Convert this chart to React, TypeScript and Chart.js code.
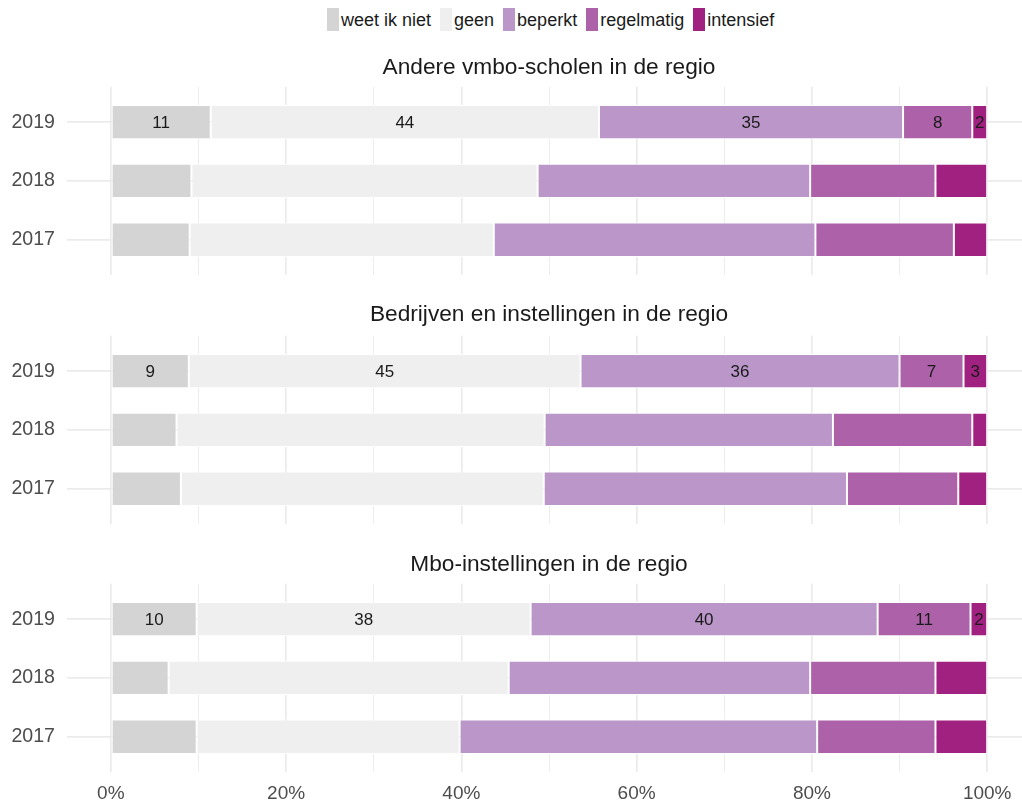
import React, { useEffect, useRef } from 'react';
import { Chart, registerables } from 'chart.js';

Chart.register(...registerables);

const FONT = "'Liberation Sans', Arial, Helvetica, sans-serif";

const years = ['2019', '2018', '2017'];
const categories = ['weet ik niet', 'geen', 'beperkt', 'regelmatig', 'intensief'];
const colors = ['#d4d4d4', '#efefef', '#ba96c9', '#ac61a8', '#a02180'];
const facetTitles = [
  'Andere vmbo-scholen in de regio',
  'Bedrijven en instellingen in de regio',
  'Mbo-instellingen in de regio',
];
const xTickValues = [0, 10, 20, 30, 40, 50, 60, 70, 80, 90, 100];

// values per year, in category order (weet ik niet, geen, beperkt, regelmatig, intensief)
const vmbo2019 = [11.4, 44.3, 34.7, 7.9, 1.7];
const vmbo2018 = [9.2, 39.5, 31.1, 14.3, 5.9];
const vmbo2017 = [9.0, 34.7, 36.7, 15.8, 3.8];

const bedrijven2019 = [8.9, 44.7, 36.4, 7.3, 2.7];
const bedrijven2018 = [7.5, 42.0, 32.9, 15.9, 1.7];
const bedrijven2017 = [8.0, 41.4, 34.6, 12.7, 3.3];

const mbo2019 = [9.8, 38.1, 39.6, 10.6, 1.9];
const mbo2018 = [6.6, 38.8, 34.4, 14.3, 5.9];
const mbo2017 = [9.8, 30.0, 40.8, 13.5, 5.9];

const facetRows = [
  [vmbo2019, vmbo2018, vmbo2017],
  [bedrijven2019, bedrijven2018, bedrijven2017],
  [mbo2019, mbo2018, mbo2017],
];

const labelledYear = '2019';

const segmentLabels = {
  id: 'segmentLabels',
  afterDatasetsDraw(chart: any) {
    const ctx = chart.ctx;
    const row = chart.data.labels.indexOf(labelledYear);
    if (row < 0) return;
    ctx.save();
    ctx.font = `17px ${FONT}`;
    ctx.fillStyle = '#1a1a1a';
    ctx.textAlign = 'center';
    ctx.textBaseline = 'middle';
    chart.data.datasets.forEach((ds: any, di: number) => {
      const meta = chart.getDatasetMeta(di);
      const el = meta.data[row];
      if (!el) return;
      const p = el.getProps(['x', 'base', 'y'], true);
      ctx.fillText(String(Math.round(ds.data[row])), (p.x + p.base) / 2, p.y + 1);
    });
    ctx.restore();
  },
};

function Facet({ title, rows, showX, top, height, titlePad }: any) {
  const ref = useRef<HTMLCanvasElement | null>(null);
  useEffect(() => {
    if (!ref.current) return;
    const datasets = categories.map((cat, ci) => ({
      label: cat,
      data: rows.map((r: number[]) => r[ci]),
      backgroundColor: colors[ci],
      borderColor: '#ffffff',
      borderWidth: 1,
      borderSkipped: false,
      barPercentage: 1,
      categoryPercentage: 0.585,
    }));
    const chart = new Chart(ref.current, {
      type: 'bar',
      data: { labels: years, datasets },
      plugins: [segmentLabels],
      options: {
        indexAxis: 'y',
        animation: false,
        responsive: true,
        maintainAspectRatio: false,
        layout: { padding: 0 },
        plugins: {
          legend: { display: false },
          tooltip: { enabled: false },
          title: {
            display: true,
            text: title,
            fullSize: false,
            color: '#1a1a1a',
            font: { family: FONT, size: 22.7, weight: 'normal', lineHeight: 1.2 },
            padding: titlePad,
          },
        },
        scales: {
          x: {
            type: 'linear',
            stacked: true,
            min: -5,
            max: 105,
            afterBuildTicks: (s: any) => {
              s.ticks = xTickValues.map((v) => ({ value: v }));
            },
            afterFit: (s: any) => {
              s.height = showX ? 33 : 0;
              s.paddingLeft = 0;
              s.paddingRight = 0;
            },
            grid: {
              color: '#ebebeb',
              lineWidth: (c: any) => (c.tick && c.tick.value % 20 === 0 ? 1.7 : 0.9),
              drawTicks: false,
            },
            border: { display: false },
            ticks: {
              display: showX,
              autoSkip: false,
              maxRotation: 0,
              padding: 10,
              color: '#4d4d4d',
              font: { family: FONT, size: 19 },
              callback: (v: any) => (Number(v) % 20 === 0 ? `${v}%` : ''),
            },
          },
          y: {
            type: 'category',
            stacked: true,
            offset: true,
            afterBuildTicks: (s: any) => {
              s._startValue = -0.6;
              s._valueRange = 3.2;
            },
            afterFit: (s: any) => {
              s.width = 67;
              s.paddingTop = 0;
              s.paddingBottom = 0;
            },
            grid: { color: '#ebebeb', lineWidth: 1.7, drawTicks: false, offset: false },
            border: { display: false },
            ticks: {
              color: '#4d4d4d',
              font: { family: FONT, size: 19.6 },
              padding: 12,
            },
          },
        },
      } as any,
    });
    return () => chart.destroy();
  }, [title, rows, showX, titlePad]);
  return (
    <div style={{ position: 'absolute', left: 0, top, width: 1031, height }}>
      <canvas ref={ref} />
    </div>
  );
}

function Legend() {
  return (
    <div
      style={{
        position: 'absolute',
        left: 327,
        top: 6,
        display: 'flex',
        alignItems: 'center',
        fontFamily: FONT,
        fontSize: 18,
        color: '#1a1a1a',
        whiteSpace: 'nowrap',
      }}
    >
      {categories.map((c, i) => (
        <div key={c} style={{ display: 'flex', alignItems: 'center', marginRight: 9 }}>
          <span
            style={{ display: 'inline-block', width: 11.5, height: 23, background: colors[i], marginRight: 2.5 }}
          />
          <span style={{ lineHeight: '23px', paddingTop: 3 }}>{c}</span>
        </div>
      ))}
    </div>
  );
}

const tops = [42, 291, 539];
const heights = [233, 233, 266];
const titlePads = [
  { top: 12, bottom: 5.6 },
  { top: 10, bottom: 7.6 },
  { top: 12, bottom: 5.6 },
];

export default function App() {
  return (
    <div
      style={{
        position: 'absolute',
        left: 0,
        top: 0,
        width: 1022,
        height: 805,
        overflow: 'hidden',
        background: '#ffffff',
      }}
    >
      <Legend />
      {facetTitles.map((t, i) => (
        <Facet
          key={t}
          title={t}
          rows={facetRows[i]}
          showX={i === 2}
          top={tops[i]}
          height={heights[i]}
          titlePad={titlePads[i]}
        />
      ))}
    </div>
  );
}
